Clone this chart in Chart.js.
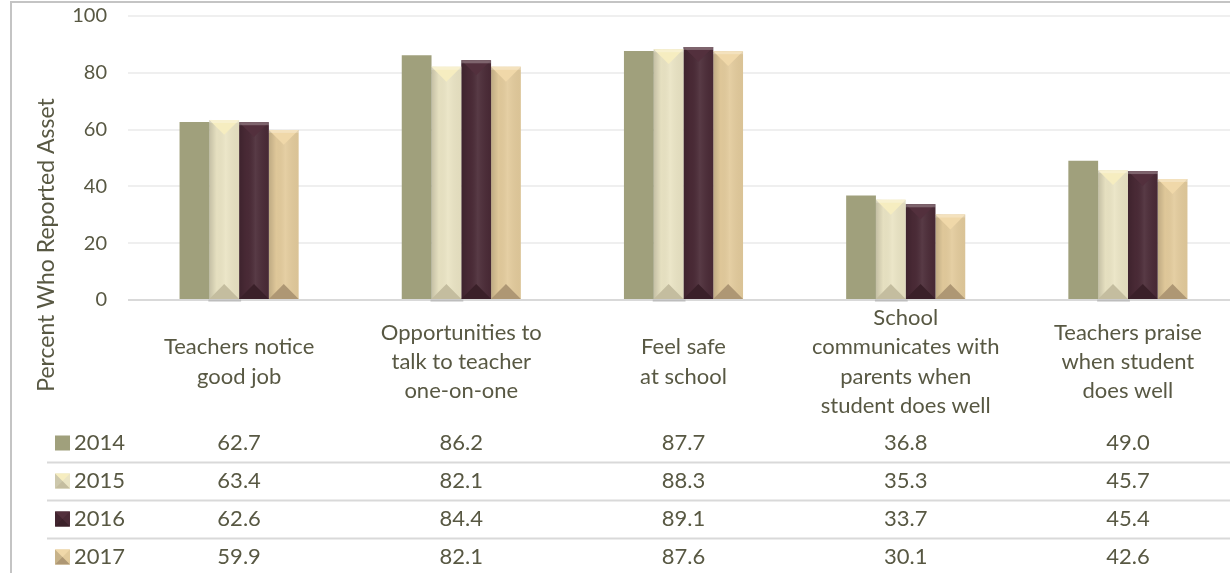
<!DOCTYPE html>
<html>
<head>
<meta charset="utf-8">
<script src="https://cdn.jsdelivr.net/npm/chart.js@4.4.1/dist/chart.umd.min.js"></script>
<style>
  html, body { margin: 0; padding: 0; background: #fff; overflow: hidden; }
  #frame { position: absolute; left: 10px; top: 1px; width: 1400px; height: 700px;
           border-left: 2px solid #c4c4c4; border-top: 2px solid #c4c4c4; }
  #wrap { position: absolute; left: 0; top: 0; width: 1245px; height: 573px; }
</style>
</head>
<body>
<div id="frame"></div>
<div id="wrap"><canvas id="myChart"></canvas></div>
<script>
// Category labels (one line per entry)
var categories = [
    ["Teachers notice", "good job"],
    ["Opportunities to", "talk to teacher", "one-on-one"],
    ["Feel safe", "at school"],
    ["School", "communicates with", "parents when", "student does well"],
    ["Teachers praise", "when student", "does well"]
];

var years = ["2014", "2015", "2016", "2017"];
var values2014 = [62.7, 86.2, 87.7, 36.8, 49.0];
var values2015 = [63.4, 82.1, 88.3, 35.3, 45.7];
var values2016 = [62.6, 84.4, 89.1, 33.7, 45.4];
var values2017 = [59.9, 82.1, 87.6, 30.1, 42.6];

// Y axis tick values
var yTicks = [0, 20, 40, 60, 80, 100];

var yTitle = "Percent Who Reported Asset";

// Colours for each series: fill, top bevel, bottom bevel
var barColors = ["#a0a07c", "#eae4c4", "#4a2a36", "#e3cb9c"];
var topColors = [null, "#f6edc0", "#53303d", "#f0d8a9"];
var bottomColors = [null, "#c4bd9f", "#3a2029", "#ae9774"];
var textColor = "#585843";
var fontName = "Lato";

// Draws the pyramid like bevel on top of every bar
function drawBevel(ctx, left, top, right, bottom, i) {
    var w = right - left;
    var d = w / 2;
    var cx = left + w / 2;
    // side shading
    var g = ctx.createLinearGradient(left, 0, right, 0);
    g.addColorStop(0, "rgba(0,0,0,0.16)");
    g.addColorStop(0.25, "rgba(0,0,0,0.02)");
    g.addColorStop(0.55, "rgba(255,255,255,0.08)");
    g.addColorStop(1, "rgba(0,0,0,0.04)");
    ctx.fillStyle = g;
    ctx.fillRect(left, top, w, bottom - top);
    // top triangle
    ctx.fillStyle = topColors[i];
    ctx.beginPath();
    ctx.moveTo(left, top);
    ctx.lineTo(right, top);
    ctx.lineTo(cx, top + d);
    ctx.closePath();
    ctx.fill();
    // bright rim along the top edge
    ctx.fillStyle = "rgba(255,255,255,0.25)";
    ctx.fillRect(left, top, w, 3);
    // bottom triangle
    ctx.fillStyle = bottomColors[i];
    ctx.beginPath();
    ctx.moveTo(left, bottom);
    ctx.lineTo(right, bottom);
    ctx.lineTo(cx, bottom - d);
    ctx.closePath();
    ctx.fill();
}

var tablePlugin = {
    id: "tablePlugin",
    afterDatasetsDraw: function (chart) {
        var ctx = chart.ctx;
        ctx.save();
        for (var i = 1; i < chart.data.datasets.length; i++) {
            chart.getDatasetMeta(i).data.forEach(function (bar) {
                var p = bar.getProps(["x", "y", "base", "width"], true);
                var left = p.x - p.width / 2;
                var right = p.x + p.width / 2;
                drawBevel(ctx, left, p.y, right, p.base, i);
                if (i === 1) {
                    // little shadow line under the 2015 bars
                    ctx.fillStyle = "#bdbdbd";
                    ctx.fillRect(left - 1, p.base + 0.5, p.width + 3, 2);
                }
            });
        }
        ctx.restore();
    },
    afterDraw: function (chart) {
        var ctx = chart.ctx;
        var xs = chart.scales.x;
        ctx.save();
        ctx.fillStyle = textColor;
        ctx.font = "22px " + fontName;
        ctx.textAlign = "center";
        ctx.textBaseline = "middle";

        // category labels under the axis
        categories.forEach(function (lines, c) {
            var x = xs.getPixelForValue(c);
            var y0 = 362 - (lines.length - 1) * 29.3 / 2;
            lines.forEach(function (line, k) {
                ctx.fillText(line, x, y0 + k * 29.3);
            });
        });

        // Y axis title
        ctx.save();
        ctx.translate(47, 245);
        ctx.rotate(-Math.PI / 2);
        ctx.font = "23px " + fontName;
        ctx.fillText(yTitle, 0, 0);
        ctx.restore();

        // data table
        var rowY = [443, 481, 519, 557];
        ctx.fillStyle = "#d9d9d9";
        for (var r = 0; r < 3; r++) {
            ctx.fillRect(47, rowY[r] + 18.5, chart.width, 2);
        }
        chart.data.datasets.forEach(function (ds, i) {
            var y = rowY[i];
            // legend key
            var kx = 55, ky = y - 7.5, ks = 15;
            ctx.fillStyle = barColors[i];
            ctx.fillRect(kx, ky, ks, ks);
            if (i > 0) {
                ctx.fillStyle = topColors[i];
                ctx.beginPath();
                ctx.moveTo(kx, ky); ctx.lineTo(kx + ks, ky); ctx.lineTo(kx + ks / 2, ky + ks / 2);
                ctx.closePath(); ctx.fill();
                ctx.fillStyle = bottomColors[i];
                ctx.beginPath();
                ctx.moveTo(kx, ky + ks); ctx.lineTo(kx + ks, ky + ks); ctx.lineTo(kx + ks / 2, ky + ks / 2);
                ctx.closePath(); ctx.fill();
                ctx.fillStyle = "rgba(0,0,0,0.12)";
                ctx.beginPath();
                ctx.moveTo(kx, ky); ctx.lineTo(kx + ks / 2, ky + ks / 2); ctx.lineTo(kx, ky + ks);
                ctx.closePath(); ctx.fill();
            }
            ctx.fillStyle = textColor;
            ctx.textAlign = "left";
            ctx.fillText(ds.label, 74, y);
            ctx.textAlign = "center";
            ds.data.forEach(function (v, c) {
                ctx.fillText(v.toFixed(1), xs.getPixelForValue(c), y);
            });
        });
        ctx.restore();
    }
};

new Chart("myChart", {
    type: "bar",
    data: {
        labels: categories,
        datasets: [
            { label: years[0], data: values2014, backgroundColor: barColors[0] },
            { label: years[1], data: values2015, backgroundColor: barColors[1] },
            { label: years[2], data: values2016, backgroundColor: barColors[2] },
            { label: years[3], data: values2017, backgroundColor: barColors[3] }
        ]
    },
    options: {
        responsive: true,
        maintainAspectRatio: false,
        animation: false,
        layout: { padding: { left: 0, top: 16, right: 6, bottom: 273 } },
        datasets: { bar: { barPercentage: 1, categoryPercentage: 0.536 } },
        plugins: { legend: { display: false }, tooltip: { enabled: false } },
        scales: {
            x: { display: false },
            y: {
                min: 0,
                max: 100,
                afterBuildTicks: function (scale) {
                    scale.ticks = yTicks.map(function (v) { return { value: v }; });
                },
                afterFit: function (scale) {
                    scale.width = 128;
                    scale.paddingTop = 0;
                    scale.paddingBottom = 0;
                },
                border: { display: false },
                grid: {
                    drawTicks: false,
                    lineWidth: 2,
                    color: function (c) { return c.tick && c.tick.value === 0 ? "#d9d9d9" : "#efefef"; }
                },
                ticks: {
                    padding: 21,
                    color: textColor,
                    font: { family: fontName, size: 20 }
                }
            }
        }
    },
    plugins: [tablePlugin]
});
</script>
</body>
</html>
